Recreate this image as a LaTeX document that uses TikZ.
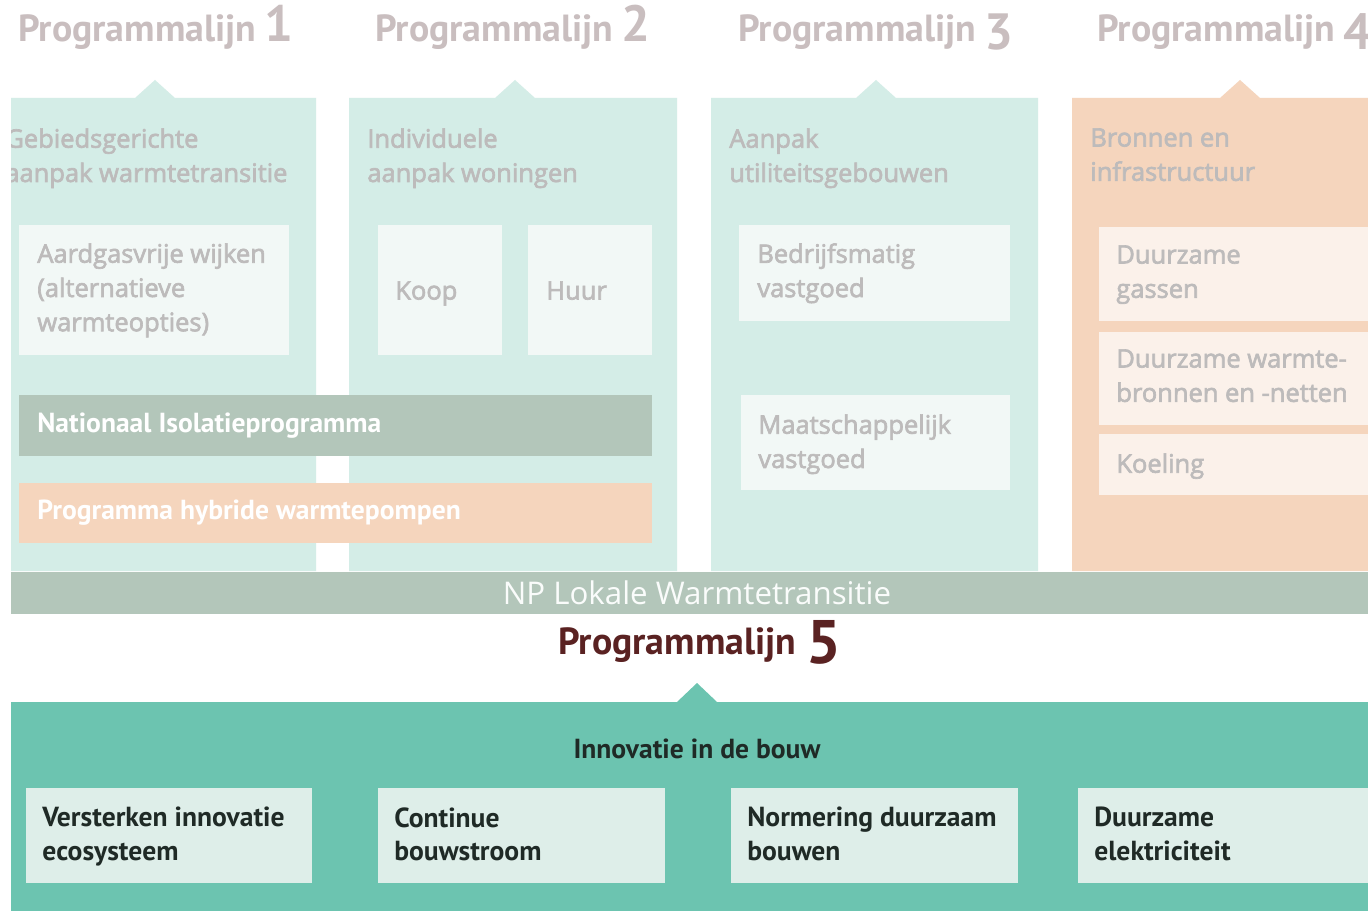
\documentclass[tikz,border=0pt]{standalone}
\usepackage{fontspec}
\setmainfont{Open Sans}
\newfontfamily\ptsans{PT Sans}
\newfontfamily\semisans{Open Sans}[FakeBold=2.6]
\usetikzlibrary{positioning,calc}

\definecolor{mint}{HTML}{D4EDE7}
\definecolor{mintbox}{HTML}{F2F8F6}
\definecolor{peach}{HTML}{F5D5BD}
\definecolor{peachbox}{HTML}{FBF1EA}
\definecolor{sage}{HTML}{B3C6BA}
\definecolor{fadehead}{HTML}{C9BEBF}
\definecolor{fadetext}{HTML}{BDBBBB}
\definecolor{teal5}{HTML}{6CC4B0}
\definecolor{tealbox}{HTML}{DEEEE9}
\definecolor{darktext}{HTML}{1F2A26}
\definecolor{maroon}{HTML}{5A2222}

\begin{document}
\begin{tikzpicture}[x=0.02cm,y=-0.02cm,
	head/.style={anchor=base west, inner sep=0pt, font=\ptsans\bfseries\fontsize{21.5}{24}\selectfont},
	num/.style={anchor=base west, inner sep=0pt, font=\ptsans\bfseries\fontsize{29}{32}\selectfont},
	lighttext/.style={anchor=north west, inner sep=0pt, align=left, text=fadetext, font=\semisans\fontsize{14.5}{19.5}\selectfont},
	bartext/.style={anchor=west, inner sep=0pt, text=white, font=\ptsans\bfseries\fontsize{15.7}{18}\selectfont},
	darkbold/.style={inner sep=0pt, align=left, text=darktext, font=\ptsans\bfseries\fontsize{15.7}{19.3}\selectfont}]
	\useasboundingbox (0,0) rectangle (1368,911);
	\fill[white] (0,0) rectangle (1368,911);
	
	\begin{scope}
	\clip (11,0) rectangle (1368,911);
	
	% programmalijn 1 to 4
	\foreach \l/\r/\c/\col in {-13/316/155/mint, 349/677/515/mint, 711/1038/876/mint, 1072/1400/1240/peach}
	\fill[\col] (\l,98) -- (\c-20,98) -- (\c,80) -- (\c+20,98) -- (\r,98) -- (\r,571) -- (\l,571) -- cycle;
	
	\foreach \i/\x/\dy in {1/18/0, 2/375/0, 3/738/8, 4/1097/8} {
		\node[head, text=fadehead] (h\i) at (\x,42) {Programmalijn};
		\node[num, text=fadehead] (n\i) at ($(h\i.base east)+(8,\dy)$) {\i};
	}
	
	\node[lighttext] (c1) at (5,128) {Gebiedsgerichte\\aanpak warmtetransitie};
	\node[lighttext] (c2) at (367,128) {Individuele\\aanpak woningen};
	\node[lighttext] (c3) at (729,128) {Aanpak\\utiliteitsgebouwen};
	\node[lighttext] (c4) at (1090,128) {Bronnen en\\infrastructuur};
	
	\fill[mintbox] (19,225) rectangle (289,355);
	\node[lighttext] (wijken) at (37,243) {Aardgasvrije wijken\\(alternatieve\\warmteopties)};
	\fill[mintbox] (378,225) rectangle (502,355);
	\node[lighttext] (koop) at (395,281) {Koop};
	\fill[mintbox] (528,225) rectangle (652,355);
	\node[lighttext] (huur) at (546,281) {Huur};
	
	\fill[sage] (19,395) rectangle (652,456);
	\node[bartext] (isolatie) at (37,425.5) {Nationaal Isolatieprogramma};
	\fill[peach] (19,483) rectangle (652,543);
	\node[bartext] (hybride) at (37,513) {Programma hybride warmtepompen};
	
	\fill[mintbox] (739,225) rectangle (1010,321);
	\node[lighttext] (bedrijf) at (757,243) {Bedrijfsmatig\\vastgoed};
	\fill[mintbox] (741,395) rectangle (1010,490);
	\node[lighttext] (maatsch) at (758,414) {Maatschappelijk\\vastgoed};
	
	\fill[peachbox] (1099,227) rectangle (1400,321);
	\node[lighttext] (gassen) at (1116,245) {Duurzame\\gassen};
	\fill[peachbox] (1099,332) rectangle (1400,425);
	\node[lighttext] (netten) at (1116,349) {Duurzame warmte-\\bronnen en -netten};
	\fill[peachbox] (1099,434) rectangle (1400,495);
	\node[lighttext] (koeling) at (1116,453) {Koeling};
	
	% NP bar
	\fill[sage] (11,572) rectangle (1400,614);
	\node[text=white!94!sage, inner sep=0pt, font=\fontsize{17.8}{20}\selectfont] (np) at (697,593) {NP Lokale Warmtetransitie};
	
	% programmalijn 5
	\node[head, text=maroon] (h5) at (558,654) {Programmalijn};
	\node[num, text=maroon, font=\ptsans\bfseries\fontsize{35}{38}\selectfont] (n5) at ($(h5.base east)+(10,9)$) {5};
	
	\fill[teal5] (11,702) -- (677,702) -- (697,683) -- (717,702) -- (1400,702) -- (1400,920) -- (11,920) -- cycle;
	\node[darkbold] (inno) at (697,749) {Innovatie in de bouw};
	
	\foreach \l/\r/\name/\txt in {26/312/eco/{Versterken innovatie\\ecosysteem}, 378/665/stroom/{Continue\\bouwstroom}, 731/1018/norm/{Normering duurzaam\\bouwen}, 1078/1400/elek/{Duurzame\\elektriciteit}} {
		\fill[tealbox] (\l,788) rectangle (\r,883);
		\node[darkbold, anchor=north west] (\name) at (\l+16,807) {\txt};
	}
	\end{scope}
\end{tikzpicture}
\end{document}
